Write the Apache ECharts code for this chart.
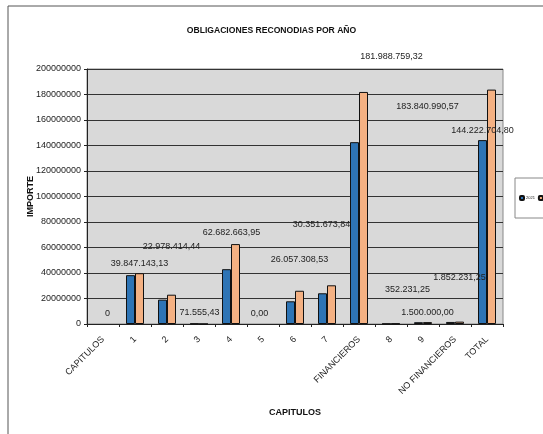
<!DOCTYPE html>
<html>
<head>
<meta charset="utf-8">
<script src="https://cdn.jsdelivr.net/npm/echarts@6/dist/echarts.min.js"></script>
<style>html,body{margin:0;padding:0;background:#fff;}#c{width:543px;height:434px;}</style>
</head>
<body>
<div id="c"></div>
<script>
var categories = ['CAPITULOS','1','2','3','4','5','6','7','FINANCIEROS','8','9','NO FINANCIEROS','TOTAL'];
var values2021 = [0, 38300000, 19100000, 300000, 43000000, 0, 17800000, 24100000, 142620000, 200000, 1400000, 1602704.80, 144222704.80];
var values2022 = [0, 39847143.13, 22978414.44, 71555.43, 62682663.95, 0, 26057308.53, 30351673.84, 181988759.32, 352231.25, 1500000.00, 1852231.25, 183840990.57];
var labels2022 = ['0','39.847.143,13','22.978.414,44','71.555,43','62.682.663,95','0,00','26.057.308,53','30.351.673,84','181.988.759,32','352.231,25','1.500.000,00','1.852.231,25','183.840.990,57'];
var labels2021Total = '144.222.704,80';
var yTicks = [0, 200000000, 20000000];

// label offsets (layout only)
var offs2022 = [[0,-1],[0,0],[0,-39],[-4,-1],[-4,-2],[-8,-1],[0,-22],[-10,-51],[28,-26],[12,-24],[0,0],[0,-35],[-64,26]];

var font = 'Liberation Sans, Arial, sans-serif';
var chart = echarts.init(document.getElementById('c'));
var orangeData = values2022.map(function(v,i){
  var d = {value: v, label: {show: true, position: 'top', offset: offs2022[i], formatter: labels2022[i]}};
  if (v === 0) d.itemStyle = {borderWidth: 0};
  return d;
});
var blueData = values2021.map(function(v,i){
  var d = {value: v};
  if (i === values2021.length - 1) d.label = {show: true, position: 'top', offset: [0,0], formatter: labels2021Total};
  if (v === 0) d.itemStyle = {borderWidth: 0};
  return d;
});
chart.setOption({
  animation: false,
  textStyle: {fontFamily: font},
  graphic: [
    {type: 'rect', shape: {x: 8, y: 6, width: 620, height: 520}, style: {fill: 'none', stroke: '#555', lineWidth: 1}, z: -10},
    {type: 'text', left: 'center', top: 26, style: {text: 'OBLIGACIONES RECONODIAS POR AÑO', font: 'bold 8.6px ' + font, fill: '#111'}}
  ],
  legend: {
    left: 515, top: 178, width: 200, orient: 'horizontal',
    padding: [17, 4, 17, 4],
    itemWidth: 4, itemHeight: 4, itemGap: 3,
    backgroundColor: '#fff', borderColor: '#888', borderWidth: 1,
    textStyle: {fontSize: 4, color: '#222', padding: [0,0,0,-3]},
    data: ['2021','2022']
  },
  grid: {left: 87, right: 40, top: 69, bottom: 110, show: true, backgroundColor: '#d9d9d9', borderColor: '#888', borderWidth: 1},
  xAxis: {
    type: 'category', data: categories,
    name: 'CAPITULOS', nameLocation: 'middle', nameGap: 84, nameMoveOverlap: false,
    nameTextStyle: {fontWeight: 'bold', fontSize: 9, color: '#111'},
    axisLine: {lineStyle: {color: '#222'}},
    axisTick: {show: true, length: 3, lineStyle: {color: '#222'}},
    axisLabel: {rotate: 45, fontSize: 9, color: '#222', margin: 14, interval: 0}
  },
  yAxis: {
    type: 'value', min: yTicks[0], max: yTicks[1], interval: yTicks[2],
    name: 'IMPORTE', nameLocation: 'middle', nameGap: 52, nameMoveOverlap: false,
    nameTextStyle: {fontWeight: 'bold', fontSize: 9, color: '#111'},
    axisLine: {show: true, lineStyle: {color: '#222'}},
    axisTick: {show: true, length: 3, lineStyle: {color: '#222'}},
    axisLabel: {fontSize: 9, color: '#222', margin: 6, formatter: function(v){ return String(v); }},
    splitLine: {lineStyle: {color: '#333', width: 1}}
  },
  series: [
    {name: '2021', type: 'bar', data: blueData, barWidth: 9, barGap: '0%',
     itemStyle: {color: '#2e74b5', borderColor: '#111', borderWidth: 1},
     label: {fontSize: 9, color: '#222', fontFamily: font}},
    {name: '2022', type: 'bar', data: orangeData, barWidth: 9,
     itemStyle: {color: '#f4b183', borderColor: '#111', borderWidth: 1},
     label: {fontSize: 9, color: '#222', fontFamily: font}}
  ]
});
</script>
</body>
</html>
